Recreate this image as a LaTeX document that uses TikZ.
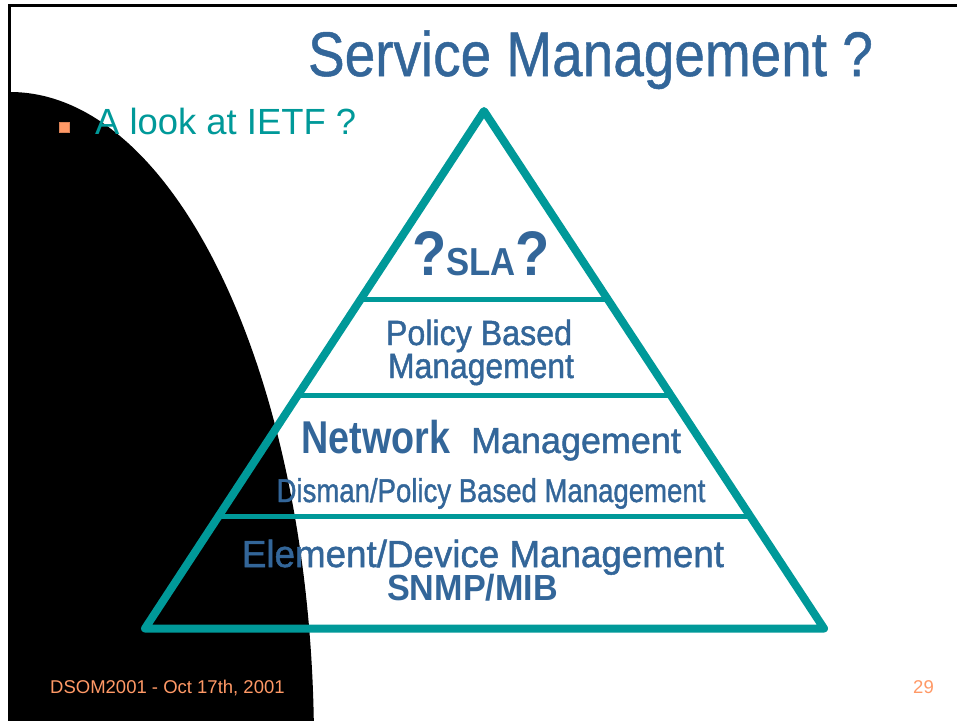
\documentclass[tikz,border=0pt]{standalone}
\usepackage{fontspec}
\usepackage{graphicx}
\setmainfont{Liberation Sans}
\newfontfamily\semib[FakeBold=1.3]{Liberation Sans}
\newfontfamily\titlef[FakeBold=0.8]{Liberation Sans}
\usetikzlibrary{calc}
\definecolor{tblue}{HTML}{336699}
\definecolor{tealc}{HTML}{009999}
\definecolor{orng}{HTML}{FF9966}
\newcommand{\fs}[1]{\fontsize{#1}{#1}\selectfont}
\newcommand{\sx}[2]{\scalebox{#1}[1]{#2}}
\begin{document}
\begin{tikzpicture}[x=1pt,y=-1pt,
  txt/.style={inner sep=0pt, anchor=base, text=tblue},
  side/.style={draw=tealc, line width=8pt, line join=round, line cap=round},
  band/.style={draw=tealc, line width=5pt}]
\useasboundingbox (0,0) rectangle (957,720);
\fill[white] (0,0) rectangle (957,720);
% black backdrop
\begin{scope}
  \clip (8,0) rectangle (957,720);
  \fill[black] (10,745) ellipse [x radius=304pt, y radius=653pt];
\end{scope}
% frame
\draw[line width=3pt] (9.5,720) -- (9.5,5.5) -- (957,5.5);
% title
\node[txt] (title) at (590.5,76) {\sx{0.872}{\titlef\fs{63}Service Management ?}};
% bullet
\node[fill=orng, draw=orng!85!black, line width=0.6pt, minimum size=10pt, inner sep=0pt] (bul) at (64.5,127) {};
\node[inner sep=0pt, anchor=base west, text=tealc] (look) at (95,134) {\fs{36.4}A look at IETF ?};
% pyramid
\coordinate (apex) at (484,111);
\coordinate (bl) at (145,628.5);
\coordinate (br) at (824,628.5);
\coordinate (l1) at ($(apex)!0.3652!(bl)$);
\coordinate (r1) at ($(apex)!0.3652!(br)$);
\coordinate (l2) at ($(apex)!0.5507!(bl)$);
\coordinate (r2) at ($(apex)!0.5507!(br)$);
\coordinate (l3) at ($(apex)!0.7845!(bl)$);
\coordinate (r3) at ($(apex)!0.7845!(br)$);
\draw[band] (l1) -- (r1);
\draw[band] (l2) -- (r2);
\draw[band] (l3) -- (r3);
\draw[side] (apex) -- (bl) -- (br) -- cycle;
% pyramid texts
\node[txt] (sla) at (481,275) {\sx{0.89}{\bfseries\fs{63}?\fs{39}SLA\fs{63}?}};
\node[txt] (pb1) at (479,345) {\sx{0.92}{\semib\fs{35}Policy Based}};
\node[txt] (pb2) at (481,378) {\sx{0.91}{\semib\fs{35}Management}};
\node[txt] (net) at (376,453) {\sx{0.82}{\bfseries\fs{46}Network}};
\node[txt] (netm) at (576,453) {\sx{0.99}{\semib\fs{36.3}Management}};
\node[txt] (dis) at (491,502) {\sx{0.835}{\semib\fs{33}Disman/Policy Based Management}};
\node[txt] (elem) at (483,567) {\sx{0.975}{\semib\fs{37.7}Element/Device Management}};
\node[txt] (snmp) at (472.5,600) {\sx{0.94}{\bfseries\fs{36.3}SNMP/MIB}};
% footer
\node[inner sep=0pt, anchor=base west, text=orng] (foot) at (50,693) {\fs{18.5}DSOM2001 - Oct 17th, 2001};
\node[inner sep=0pt, anchor=base east, text=orng] (page) at (934,693) {\fs{18.5}29};
\end{tikzpicture}
\end{document}
